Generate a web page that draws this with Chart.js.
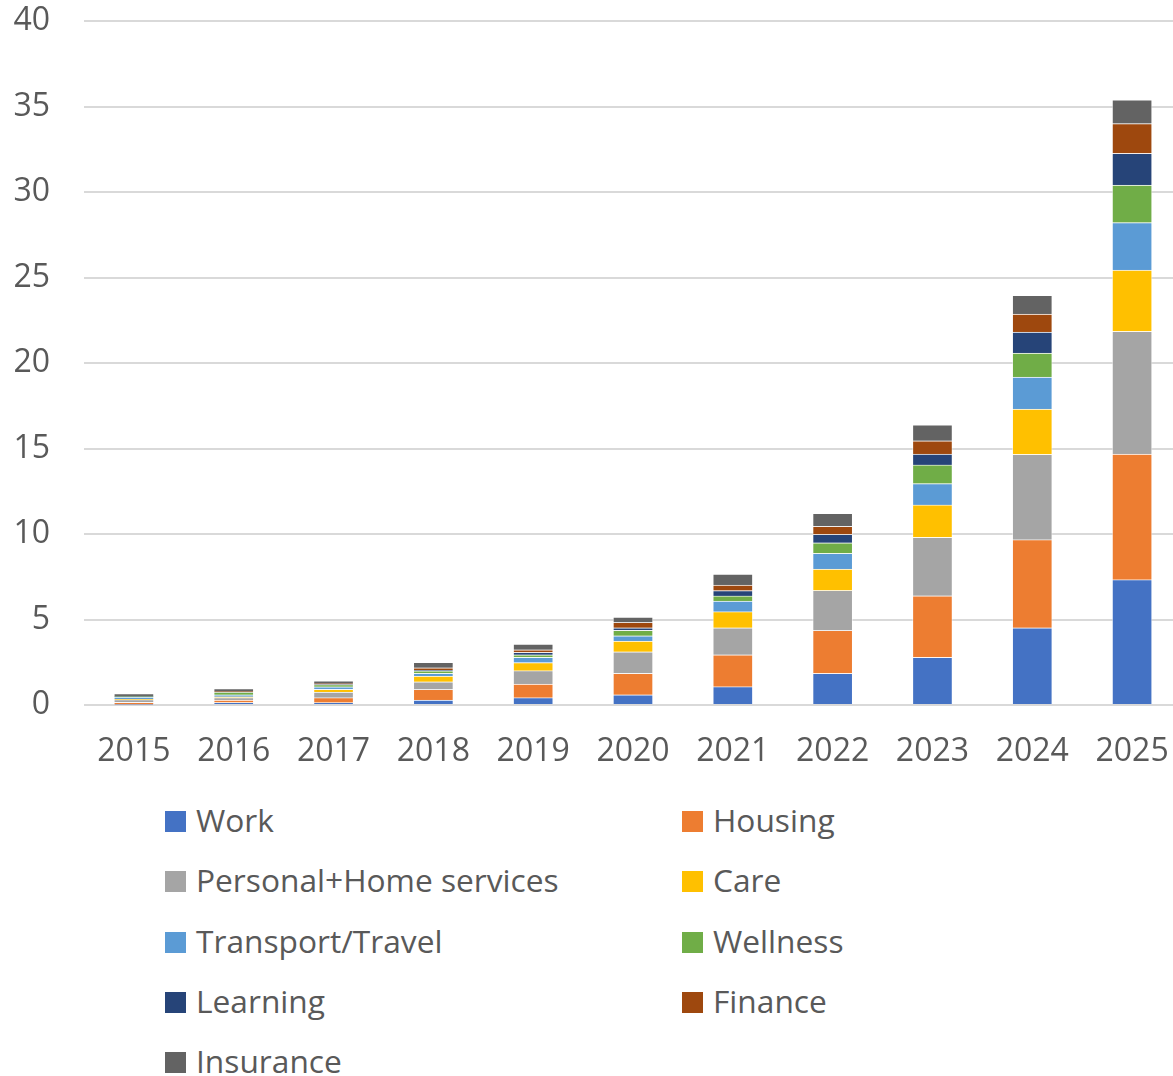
<!DOCTYPE html>
<html>
<head>
<meta charset="utf-8">
<script src="https://cdn.jsdelivr.net/npm/chart.js@4.4.1/dist/chart.umd.min.js"></script>
<style>
  html, body { margin: 0; padding: 0; background: #fff; overflow: hidden; }
  #wrap { position: relative; width: 1173px; height: 1076px; overflow: hidden; }
  #myChart { position: absolute; left: 0; top: 0; }
  #legend { position: absolute; left: 0; top: 0; font-family: "Open Sans", sans-serif; font-size: 31.7px; color: #595959; }
  .item { position: absolute; height: 40px; line-height: 40px; white-space: nowrap; }
  .box { position: absolute; left: 0; top: 9px; width: 21px; height: 21px; }
  .label { position: absolute; left: 31px; top: -2px; }
</style>
</head>
<body>
<div id="wrap">
  <canvas id="myChart" width="1190" height="790"></canvas>
  <div id="legend"></div>
</div>
<script>
const years = ['2015', '2016', '2017', '2018', '2019', '2020', '2021', '2022', '2023', '2024', '2025'];

const work      = [0.03, 0.15, 0.14, 0.29, 0.43, 0.60, 1.07, 1.85, 2.79, 4.52, 7.33];
const housing   = [0.13, 0.14, 0.29, 0.62, 0.80, 1.25, 1.87, 2.51, 3.60, 5.15, 7.35];
const personal  = [0.15, 0.15, 0.33, 0.45, 0.78, 1.26, 1.58, 2.34, 3.42, 4.99, 7.17];
const care      = [0.03, 0.04, 0.16, 0.33, 0.47, 0.63, 0.94, 1.25, 1.89, 2.65, 3.58];
const transport = [0.12, 0.12, 0.14, 0.16, 0.31, 0.31, 0.61, 0.92, 1.25, 1.87, 2.78];
const wellness  = [0.03, 0.15, 0.14, 0.15, 0.15, 0.32, 0.31, 0.62, 1.09, 1.40, 2.20];
const learning  = [0.01, 0.02, 0.02, 0.03, 0.14, 0.15, 0.31, 0.49, 0.63, 1.23, 1.85];
const finance   = [0.02, 0.03, 0.03, 0.15, 0.15, 0.31, 0.32, 0.47, 0.78, 1.05, 1.74];
const insurance = [0.15, 0.16, 0.17, 0.31, 0.33, 0.31, 0.64, 0.76, 0.94, 1.10, 1.39];

const yTicks = [0, 5, 10, 15, 20, 25, 30, 35, 40];

const series = [
  { label: 'Work', data: work, color: '#4472C4' },
  { label: 'Housing', data: housing, color: '#ED7D31' },
  { label: 'Personal+Home services', data: personal, color: '#A5A5A5' },
  { label: 'Care', data: care, color: '#FFC000' },
  { label: 'Transport/Travel', data: transport, color: '#5B9BD5' },
  { label: 'Wellness', data: wellness, color: '#70AD47' },
  { label: 'Learning', data: learning, color: '#264478' },
  { label: 'Finance', data: finance, color: '#9E480E' },
  { label: 'Insurance', data: insurance, color: '#636363' },
];

const tickFont = { family: '"Open Sans", sans-serif', size: 32 };

const ctx = document.getElementById('myChart').getContext('2d');
const myChart = new Chart(ctx, {
  type: 'bar',
  data: {
    labels: years,
    datasets: series.map(s => ({
      label: s.label,
      data: s.data,
      backgroundColor: s.color,
      borderColor: 'rgba(255,255,255,0.45)',
      borderWidth: 1,
      barThickness: 40,
    })),
  },
  options: {
    responsive: false,
    animation: false,
    layout: { padding: { top: 21, right: 8, left: 0, bottom: 0 } },
    plugins: {
      legend: { display: false },
      tooltip: { enabled: false },
    },
    scales: {
      x: {
        stacked: true,
        grid: { display: false, drawTicks: false },
        border: { display: false },
        ticks: { color: '#595959', font: tickFont, padding: 28, maxRotation: 0 },
        afterFit: (axis) => {
          axis.height = 85;
          axis.paddingLeft = 0;
          axis.paddingRight = 0;
        },
      },
      y: {
        stacked: true,
        min: 0,
        max: 40,
        afterBuildTicks: (axis) => { axis.ticks = yTicks.map(v => ({ value: v })); },
        grid: { color: '#d9d9d9', lineWidth: 2, drawTicks: false },
        border: { display: false },
        ticks: { color: '#595959', font: tickFont, padding: 34 },
        afterFit: (axis) => {
          axis.width = 84;
          axis.paddingTop = 0;
          axis.paddingBottom = 0;
        },
      },
    },
  },
});

// two-column legend under the chart
const legend = document.getElementById('legend');
series.forEach((s, i) => {
  const col = i % 2;
  const row = Math.floor(i / 2);
  const item = document.createElement('div');
  item.className = 'item';
  item.style.left = (col === 0 ? 165 : 682) + 'px';
  item.style.top = (802 + row * 60.3) + 'px';
  item.innerHTML = '<span class="box" style="background:' + s.color + '"></span><span class="label">' + s.label + '</span>';
  legend.appendChild(item);
});
</script>
</body>
</html>
